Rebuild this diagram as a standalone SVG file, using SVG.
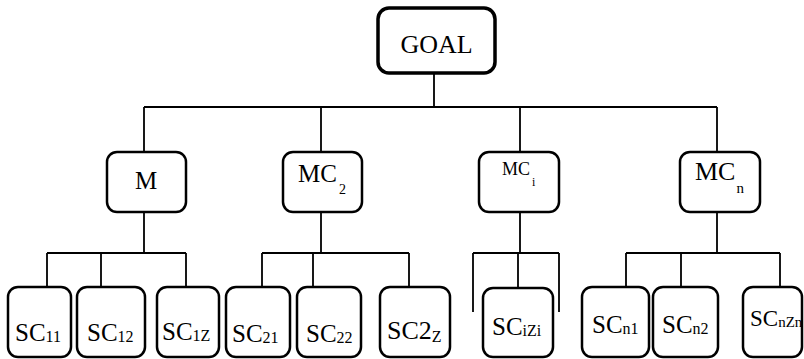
<svg xmlns="http://www.w3.org/2000/svg" width="804" height="359" viewBox="0 0 804 359">
<style>
.box{fill:#fff;stroke:#000;stroke-width:2.5}
.goal{fill:#fff;stroke:#000;stroke-width:3.5}
.ln{fill:none;stroke:#000;stroke-width:1.8}
.t{font-family:"Liberation Serif",Tinos,"Times New Roman",Times,"DejaVu Serif",serif;fill:#000}
.big{font-size:25px}
.sub{font-size:16px}
</style>
<rect width="804" height="359" fill="#fff"/>
<g id="connectors">
<path class="ln" d="M434 73V107M144 107H717M144 107V152M321 107V152M520 107V152M717 107V152"/>
<path class="ln" d="M144 212V253M47 253H186M47 253V287M101 253V287M186 253V287"/>
<path class="ln" d="M321 212V253M262 253H409M262 253V287M313 253V287M409 253V287"/>
<path class="ln" d="M520 212V253M473 253H559M473 253V312M518 253V288M559 253V312"/>
<path class="ln" d="M717 212V253M626 253H780M626 253V287M681 253V287M780 253V287"/>
</g>
<g id="goal"><rect class="goal" x="378" y="8" width="117" height="65" rx="11"/><text class="t" x="436.5" y="53" font-size="26" text-anchor="middle">GOAL</text></g>
<g id="m"><rect class="box" x="107" y="152" width="79" height="60" rx="10"/><text class="t big" x="146" y="189" text-anchor="middle">M</text></g>
<g id="mc2"><rect class="box" x="283" y="152" width="79" height="60" rx="10"/><text class="t big" x="298" y="182">MC<tspan font-size="14" dy="12" dx="2">2</tspan></text></g>
<g id="mci"><rect class="box" x="479" y="152" width="80" height="60" rx="10"/><text class="t" x="502" y="175" font-size="18">MC<tspan font-size="12" dy="11" dx="2">i</tspan></text></g>
<g id="mcn"><rect class="box" x="680" y="152" width="80" height="60" rx="10"/><text class="t" x="695" y="180" font-size="26">MC<tspan font-size="15" dy="13" dx="1">n</tspan></text></g>
<g id="sc11"><rect class="box" x="8" y="287" width="63" height="70" rx="10"/><text class="t big" x="15" y="341">SC<tspan class="sub" dy="1">11</tspan></text></g>
<g id="sc12"><rect class="box" x="77" y="287" width="68" height="70" rx="10"/><text class="t big" x="87" y="341">SC<tspan class="sub" dy="1">12</tspan></text></g>
<g id="sc1z"><rect class="box" x="157" y="287" width="62" height="70" rx="10"/><text class="t big" x="162" y="340">SC<tspan class="sub" dy="1">1Z</tspan></text></g>
<g id="sc21"><rect class="box" x="226" y="287" width="64" height="70" rx="10"/><text class="t big" x="232" y="342">SC<tspan class="sub" dy="1">21</tspan></text></g>
<g id="sc22"><rect class="box" x="297" y="287" width="64" height="70" rx="10"/><text class="t big" x="306" y="342">SC<tspan class="sub" dy="1">22</tspan></text></g>
<g id="sc2z"><rect class="box" x="380" y="287" width="70" height="70" rx="10"/><text class="t" x="387" y="339" font-size="26">SC2<tspan class="sub" dy="3">Z</tspan></text></g>
<g id="scizi"><rect class="box" x="483" y="288" width="70" height="69" rx="10"/><text class="t big" x="492" y="335">SC<tspan class="sub" dy="1">iZi</tspan></text></g>
<g id="scn1"><rect class="box" x="582" y="287" width="67" height="70" rx="10"/><text class="t big" x="592" y="333">SC<tspan class="sub" dy="1">n1</tspan></text></g>
<g id="scn2"><rect class="box" x="653" y="287" width="65" height="70" rx="10"/><text class="t big" x="662" y="333">SC<tspan class="sub" dy="1">n2</tspan></text></g>
<g id="scnzn"><rect class="box" x="743" y="287" width="59" height="70" rx="10"/><text class="t" x="750" y="326" font-size="23">SC<tspan font-size="15" dy="1">nZn</tspan></text></g>
</svg>
